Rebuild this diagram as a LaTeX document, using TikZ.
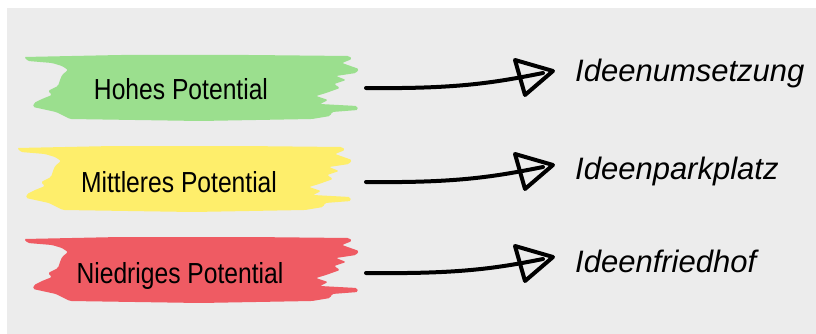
\documentclass[tikz,border=0pt]{standalone}
\usepackage{fontspec}
\setmainfont{Liberation Sans}
\newfontfamily\handfont[FakeStretch=0.85]{Liberation Sans}
\usetikzlibrary{calc}
\definecolor{bgray}{HTML}{ECECEC}
\definecolor{bgreen}{HTML}{9BDF8E}
\definecolor{byellow}{HTML}{FEEE6B}
\definecolor{bred}{HTML}{EF5B63}
\tikzset{
  lbl/.style={font=\handfont\fontsize{29}{34}\selectfont, text=black, inner sep=0pt, anchor=base},
  rlbl/.style={font=\fontsize{31}{36}\selectfont\itshape, text=black, inner sep=0pt, anchor=base west},
  shaft/.style={line width=4pt, line cap=round, black},
  head/.style={line width=4pt, line join=round, line cap=round, black},
  brushfill/.style={rounded corners=1.5pt}
}
\newcommand\brushshape{(24,57) -- (120,55) -- (250,55) -- (349,56) -- (352,59) -- (342,63) -- (359,69) -- (356,73) -- (336,76) -- (346,80) -- (334,84) -- (340,88) -- (326,93) -- (316,96) -- (328,100) -- (320,104) -- (357,106) -- (358,110) -- (332,112) -- (330,116) -- (312,119) -- (200,121) -- (70,119) -- (62,115) -- (56,112) -- (33,107) -- (34,103) -- (42,99) -- (52,95) -- (48,91) -- (58,86) -- (60,80) -- (62,75) -- (68,70) -- (62,66) -- (52,63) -- (28,61) -- cycle}
\begin{document}
\begin{tikzpicture}[x=1pt, y=-1pt]
\useasboundingbox (0,0) rectangle (816,334);
\fill[bgray] (7,8) rectangle (816,334);
% brushes
\fill[bgreen, brushfill] \brushshape;
\begin{scope}[shift={(-7,91)}]
\fill[byellow, brushfill] \brushshape;
\end{scope}
\begin{scope}[shift={(0,182)}]
\fill[bred, brushfill] \brushshape;
\end{scope}
% left labels
\node[lbl] (hohes) at (181,100) {Hohes Potential};
\node[lbl] (mittel) at (179,192) {Mittleres Potential};
\node[lbl] (niedrig) at (180,283) {Niedriges Potential};
% right labels
\node[rlbl] (umsetzung) at (575,82) {Ideenumsetzung};
\node[rlbl] (park) at (575,179) {Ideenparkplatz};
\node[rlbl] (friedhof) at (575,272) {Ideenfriedhof};
% arrow endpoints
\coordinate (s1) at (366,88);
\coordinate (t1) at (553,71);
\coordinate (s2) at (366,182);
\coordinate (t2) at (553,165);
\coordinate (s3) at (366,273);
\coordinate (t3) at (553,257);
\foreach \s/\t in {s1/t1, s2/t2, s3/t3}{
  \draw[shaft] (\s) .. controls ($(\s)+(90,1)$) and ($(\t)+(-60,12)$) .. ($(\t)+(-10,2)$);
  \draw[head] ($(\t)+(-38,-11)$) -- (\t) -- ($(\t)+(-28,24)$) -- cycle;
}
\end{tikzpicture}
\end{document}
